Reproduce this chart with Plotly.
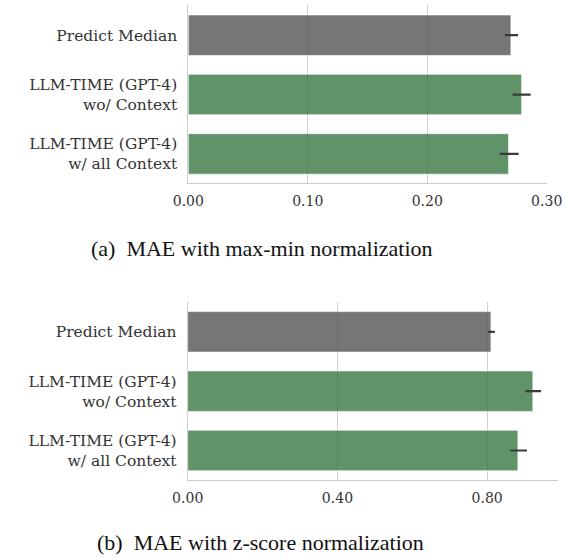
import plotly.graph_objects as go

W, H = 565, 558

categories = ["Predict Median", "LLM-TIME (GPT-4)<br>wo/ Context", "LLM-TIME (GPT-4)<br>w/ all Context"]
bar_colors = ["rgba(80,80,80,0.78)", "rgba(53,117,62,0.78)", "rgba(53,117,62,0.78)"]

# (a) MAE with max-min normalization
mae_minmax = [0.270, 0.279, 0.268]
mae_minmax_lo = [0.265, 0.2715, 0.2606]
mae_minmax_hi = [0.276, 0.2866, 0.2765]
ticks_a = [0.0, 0.1, 0.2, 0.3]
ticklabels_a = ["0.00", "0.10", "0.20", "0.30"]

# (b) MAE with z-score normalization
mae_zscore = [0.810, 0.922, 0.882]
mae_zscore_lo = [0.8025, 0.902, 0.862]
mae_zscore_hi = [0.8204, 0.944, 0.906]
ticks_b = [0.0, 0.4, 0.8]
ticklabels_b = ["0.00", "0.40", "0.80"]

captions = ["(a)  MAE with max-min normalization", "(b)  MAE with z-score normalization"]

xtick_font = dict(family="DejaVu Serif", size=14, color="#333333")
ytick_font = dict(family="DejaVu Serif", size=15.5, color="#333333")


def px_x(x):
    return x / W


def px_y(y):
    return 1 - y / H


fig = go.Figure()


def add_panel(vals, lo, hi, xa, ya):
    fig.add_trace(go.Bar(
        y=categories, x=vals, orientation="h",
        marker=dict(color=bar_colors, line=dict(color="rgba(255,255,255,0.6)", width=1)),
        error_x=dict(type="data", symmetric=False,
                     array=[h - v for h, v in zip(hi, vals)],
                     arrayminus=[v - l for v, l in zip(vals, lo)],
                     color="#3a3a3a", thickness=2.2, width=0),
        xaxis=xa, yaxis=ya, showlegend=False, hoverinfo="skip",
    ))


add_panel(mae_minmax, mae_minmax_lo, mae_minmax_hi, "x", "y")
add_panel(mae_zscore, mae_zscore_lo, mae_zscore_hi, "x2", "y2")

axis_common = dict(showline=True, linecolor="#cccccc", linewidth=1, mirror=False,
                   ticks="", zeroline=False, automargin=False)

fig.update_layout(
    template="none",
    width=W, height=H,
    margin=dict(l=0, r=0, t=0, b=0, pad=0),
    paper_bgcolor="white", plot_bgcolor="white",
    bargap=0.318,
    xaxis=dict(domain=[px_x(188.3), px_x(546.7)], anchor="y", range=[0, 0.30],
               tickvals=ticks_a, ticktext=ticklabels_a, showgrid=True,
               gridcolor="#cfcfcf", gridwidth=1, tickfont=xtick_font,
               ticklabelstandoff=5, **axis_common),
    yaxis=dict(domain=[px_y(182.7), px_y(5)], anchor="x", range=[2.485, -0.509],
               showgrid=False, ticklabelstandoff=7, tickfont=ytick_font, **axis_common),
    xaxis2=dict(domain=[px_x(187.7), px_x(558.3)], anchor="y2", range=[0, 0.99],
                tickvals=ticks_b, ticktext=ticklabels_b, showgrid=True,
                gridcolor="#cfcfcf", gridwidth=1, tickfont=xtick_font,
                ticklabelstandoff=5, **axis_common),
    yaxis2=dict(domain=[px_y(480), px_y(301.7)], anchor="x2", range=[2.497, -0.508],
                showgrid=False, ticklabelstandoff=7, tickfont=ytick_font, **axis_common),
    annotations=[
        dict(text=captions[0], x=px_x(261.7), y=px_y(248), xref="paper", yref="paper",
             xanchor="center", yanchor="middle", showarrow=False,
             font=dict(family="Liberation Serif", size=22, color="#111111")),
        dict(text=captions[1], x=px_x(260.8), y=px_y(542.5), xref="paper", yref="paper",
             xanchor="center", yanchor="middle", showarrow=False,
             font=dict(family="Liberation Serif", size=22, color="#111111")),
    ],
)

# remove the browser's default 8px page margin so the figure fills the window
fig.write_html("out.html", config={"displayModeBar": False},
               post_script="document.body.style.margin='0';")
